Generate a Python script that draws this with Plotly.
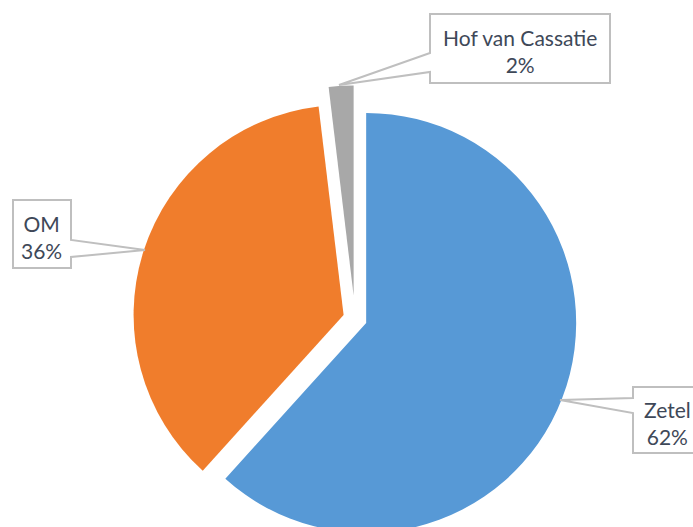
import plotly.graph_objects as go

labels = ["Zetel", "OM", "Hof van Cassatie"]
values = [61.7, 36.4, 1.9]
colors = ["#5799d6", "#f07d2c", "#a8a8a8"]
pulls = [0.057, 0.057, 0.11]

W, H = 693, 560


def pp(x, y):
    # pixel position -> paper coordinates
    return x / W, 1 - y / H


def callout(points):
    coords = [pp(x, y) for x, y in points]
    return "M " + " L ".join(f"{x:.5f},{y:.5f}" for x, y in coords) + " Z"


# pie box: centre and half size in pixels
cx, cy, half = 355, 318.6, 233.1

fig = go.Figure(go.Pie(
    labels=labels,
    values=values,
    sort=False,
    direction="clockwise",
    rotation=0,
    pull=pulls,
    textinfo="none",
    hoverinfo="label+percent",
    marker=dict(colors=colors, line=dict(width=0)),
    domain=dict(x=[(cx - half) / W, (cx + half) / W],
                y=[1 - (cy + half) / H, 1 - (cy - half) / H]),
    showlegend=False,
))

# callout outlines (box + pointer) per label
outlines = {
    "Zetel": [(633, 387), (702, 387), (702, 453), (633, 453), (633, 413), (560, 400), (633, 398)],
    "OM": [(13, 200), (71, 200), (71, 240), (145, 250), (71, 257), (71, 268), (13, 268)],
    "Hof van Cassatie": [(430, 14), (610, 14), (610, 83), (430, 83), (430, 72), (339, 85), (430, 53)],
}
text_pos = {"Zetel": (667, 423), "OM": (41, 237), "Hof van Cassatie": (520, 51)}

total = sum(values)
for lab, v in zip(labels, values):
    fig.add_shape(type="path", path=callout(outlines[lab]), xref="paper", yref="paper",
                  line=dict(color="#bfbfbf", width=2), fillcolor="white")
    x, y = pp(*text_pos[lab])
    fig.add_annotation(x=x, y=y, xref="paper", yref="paper", showarrow=False,
                       xanchor="center", yanchor="middle",
                       text=f"{lab}<br>{round(v / total * 100)}%",
                       font=dict(family="Lato", size=21, color="#3e4858"))

fig.update_layout(
    width=W, height=H,
    margin=dict(l=0, r=0, t=0, b=0),
    paper_bgcolor="white",
)

fig.write_html("out.html", config={"displayModeBar": False},
               post_script="document.body.style.margin='0';document.documentElement.style.overflow='hidden';document.body.style.overflow='hidden';")
